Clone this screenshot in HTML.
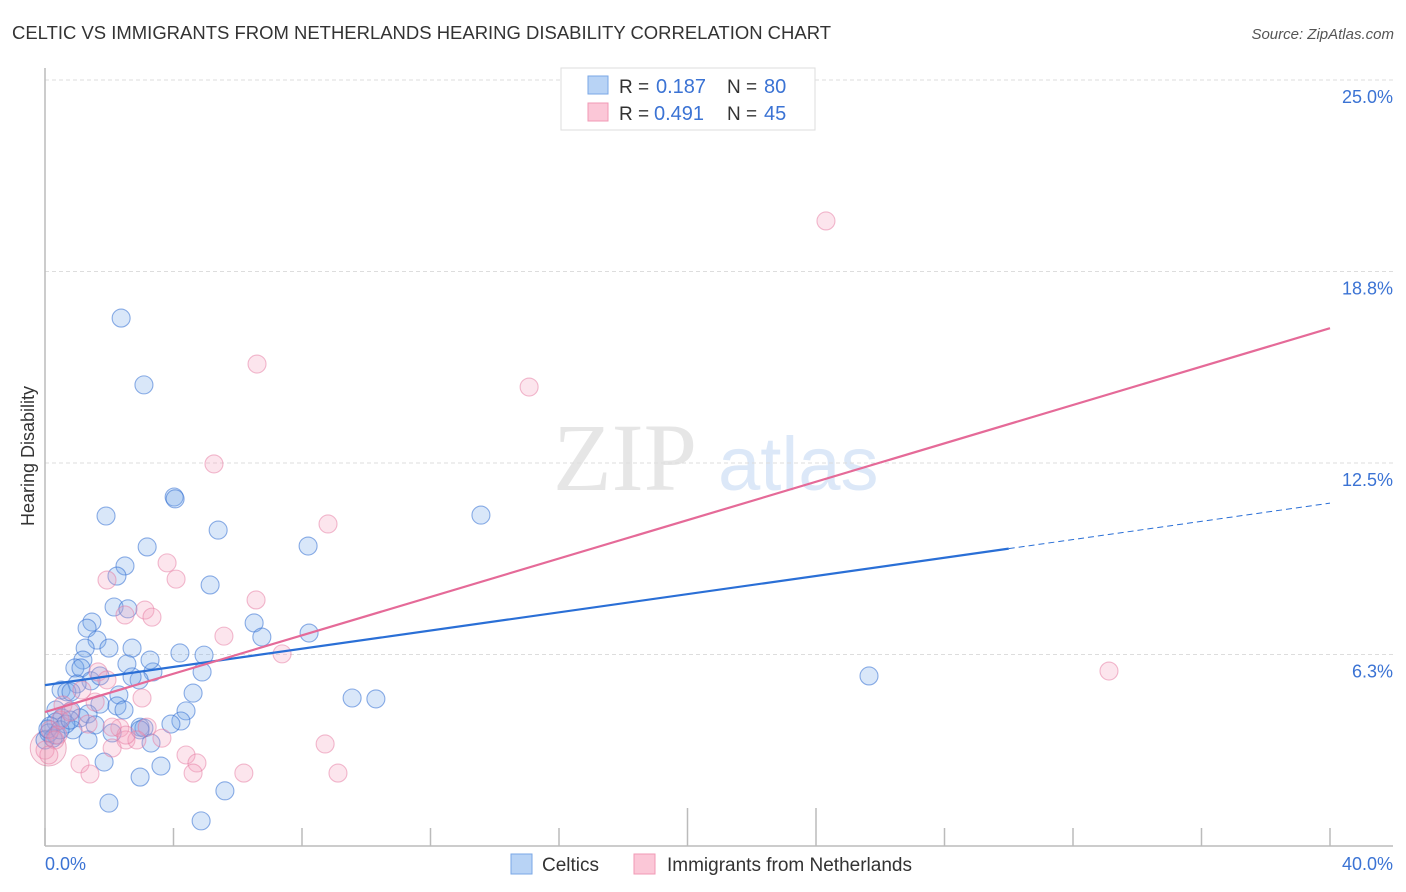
<!DOCTYPE html>
<html><head><meta charset="utf-8"><style>
body{margin:0;background:#fff;font-family:"Liberation Sans",sans-serif}
</style></head><body>
<svg id="chart" width="1406" height="892" xmlns="http://www.w3.org/2000/svg" style="display:block;font-family:'Liberation Sans',sans-serif">
<text x="12" y="39" font-size="18" fill="#333" textLength="819" lengthAdjust="spacingAndGlyphs">CELTIC VS IMMIGRANTS FROM NETHERLANDS HEARING DISABILITY CORRELATION CHART</text>
<text x="1394" y="39" font-size="15" fill="#555" text-anchor="end" font-style="italic">Source: ZipAtlas.com</text>
<g>
<text x="553" y="490" font-size="96" fill="#e6e6e6" font-family="Liberation Serif,serif">ZIP</text>
<text x="718" y="490" font-size="76" fill="#dce8f8">atlas</text>
</g>
<g id="grid"></g>
<line x1="45" y1="68" x2="45" y2="846" stroke="#bbb" stroke-width="1.5"/>
<line x1="45" y1="846" x2="1393" y2="846" stroke="#bbb" stroke-width="1.5"/>
<g id="xticks"></g>
<g id="ylabels"></g>
<text x="45" y="870" font-size="18" fill="#3b73d4">0.0%</text>
<text x="1393" y="870" font-size="18" fill="#3b73d4" text-anchor="end">40.0%</text>
<text transform="translate(34,456) rotate(-90)" font-size="18" fill="#333" text-anchor="middle">Hearing Disability</text>
<g id="pts"></g>
<g id="trends"></g>
<g>
<rect x="561" y="68" width="254" height="62" fill="#fff" stroke="#ddd"/>
<rect x="588" y="76" width="20" height="18" fill="#b8d3f5" stroke="#7aa7e6"/>
<rect x="588" y="103" width="20" height="18" fill="#fbc7d7" stroke="#f09ab5"/>
<text x="619" y="93" font-size="19" fill="#333">R =</text>
<text x="656" y="93" font-size="20" fill="#3b73d4">0.187</text>
<text x="727" y="93" font-size="19" fill="#333">N =</text>
<text x="764" y="93" font-size="20" fill="#3b73d4">80</text>
<text x="619" y="120" font-size="19" fill="#333">R =</text>
<text x="654" y="120" font-size="20" fill="#3b73d4">0.491</text>
<text x="727" y="120" font-size="19" fill="#333">N =</text>
<text x="764" y="120" font-size="20" fill="#3b73d4">45</text>
</g>
<g>
<rect x="511" y="854" width="21" height="20" fill="#b8d3f5" stroke="#7aa7e6"/>
<text x="542" y="871" font-size="19" fill="#333">Celtics</text></g>
<g>
<rect x="634" y="854" width="21" height="20" fill="#fbc7d7" stroke="#f09ab5"/>
<text x="667" y="871" font-size="19" fill="#333">Immigrants from Netherlands</text></g>
</svg>
<script>
const blueX=[2.37,3.08,4.02,4.05,1.90,5.39,3.18,8.19,13.57,2.49,2.24,5.14,2.15,2.58,1.46,1.31,6.51,6.75,8.22,1.62,1.25,1.99,2.71,4.20,4.95,1.18,0.93,1.12,2.55,3.36,4.89,25.65,2.93,1.43,1.00,0.50,0.68,0.81,2.30,4.61,9.56,10.30,1.71,2.24,4.39,0.34,0.81,1.34,2.46,0.53,1.09,4.23,3.92,2.96,3.08,0.34,1.56,0.16,0.87,2.09,3.30,1.34,0.34,0.12,1.84,3.61,2.96,5.60,1.99,4.86,2.96,0,0.25,0.65,0.09,0.47,2.71,3.27,1.71,0.78];
const blueY=[17.23,15.05,11.39,11.33,10.77,10.31,9.76,9.79,10.80,9.14,8.81,8.52,7.80,7.74,7.31,7.11,7.28,6.82,6.95,6.72,6.46,6.46,6.46,6.30,6.23,6.07,5.81,5.81,5.94,5.68,5.68,5.55,5.42,5.39,5.29,5.09,5.03,5.03,4.93,4.99,4.83,4.80,4.63,4.57,4.41,4.44,4.41,4.31,4.44,4.18,4.18,4.08,3.98,3.88,3.85,4.05,3.95,3.92,3.79,3.69,3.36,3.46,3.62,3.69,2.74,2.61,2.25,1.80,1.40,0.82,3.79,3.46,3.52,3.98,3.82,3.79,5.52,6.07,5.55,4.11];
const pinkX=[24.31,6.60,15.07,5.26,8.81,3.80,1.93,4.08,3.11,6.57,2.49,3.33,5.57,7.38,33.12,1.65,1.93,1.15,3.02,0.56,1.56,2.33,3.18,2.52,2.86,3.64,0.16,0.40,0.31,0,0.12,2.09,8.72,4.39,4.73,4.61,1.09,1.40,6.19,9.12,1.34,0.47,0.78,2.52,2.09];
const pinkY=[20.40,15.73,14.98,12.47,10.51,9.24,8.68,8.71,7.70,8.03,7.54,7.47,6.85,6.27,5.71,5.68,5.42,5.09,4.83,4.60,4.70,3.85,3.88,3.46,3.46,3.52,3.79,3.62,3.46,3.13,2.97,3.20,3.33,2.97,2.71,2.38,2.68,2.35,2.38,2.38,3.98,4.11,4.37,3.62,3.88];
const blueTrend=[5.25,11.19]; const blueSolidEnd=30.0;
const pinkTrend=[4.37,16.9];
const yTicks=[6.25,12.5,18.75,25]; const yTickLabels=["6.3%","12.5%","18.8%","25.0%"];
const xTicks=[0,4,8,12,16,20,24,28,32,36,40];
const NS="http://www.w3.org/2000/svg";
const sx=v=>45+v*32.125, sy=v=>846-v*30.64;
function mk(t,a,p){const e=document.createElementNS(NS,t);for(const k in a)e.setAttribute(k,a[k]);p.appendChild(e);return e;}
const grid=document.getElementById('grid'),yl=document.getElementById('ylabels'),xt=document.getElementById('xticks');
yTicks.forEach((v,i)=>{const l=mk('line',{x1:45,x2:1393,y1:sy(v),y2:sy(v),stroke:'#ddd','stroke-dasharray':'4,3'},grid);


const t=mk('text',{x:1393,y:sy(v)+23,'font-size':18,fill:'#3b73d4','text-anchor':'end'},yl);t.textContent=yTickLabels[i];

});
xTicks.forEach((v,i)=>{const l=mk('line',{x1:sx(v),x2:sx(v),y1:(i===5||i===6)?808:828,y2:846,stroke:'#bbb','stroke-width':1.5},xt);

});
const pts=document.getElementById('pts');
const big=mk('circle',{cx:sx(0.1),cy:sy(3.2),r:18,fill:'rgba(240,150,180,0.25)',stroke:'rgba(220,110,150,0.5)'},pts);


blueX.forEach((x,i)=>{const c=mk('circle',{cx:sx(x),cy:sy(blueY[i]),r:9,fill:'rgba(120,170,235,0.28)',stroke:'rgba(50,110,210,0.55)','stroke-width':1.1},pts);

});
pinkX.forEach((x,i)=>{const c=mk('circle',{cx:sx(x),cy:sy(pinkY[i]),r:9,fill:'rgba(245,160,190,0.28)',stroke:'rgba(230,120,160,0.5)','stroke-width':1.1},pts);

});
const tr=document.getElementById('trends');
const by=x=>blueTrend[0]+(blueTrend[1]-blueTrend[0])*x/40;
let l1=mk('line',{x1:sx(0),y1:sy(by(0)),x2:sx(blueSolidEnd),y2:sy(by(blueSolidEnd)),stroke:'#2a6fd6','stroke-width':2.2},tr);


let l2=mk('line',{x1:sx(blueSolidEnd),y1:sy(by(blueSolidEnd)),x2:sx(40),y2:sy(by(40)),stroke:'#2a6fd6','stroke-width':1,'stroke-dasharray':'6,4'},tr);


let l3=mk('line',{x1:sx(0),y1:sy(pinkTrend[0]),x2:sx(40),y2:sy(pinkTrend[1]),stroke:'#e56a98','stroke-width':2.2},tr);


</script>
</body></html>
